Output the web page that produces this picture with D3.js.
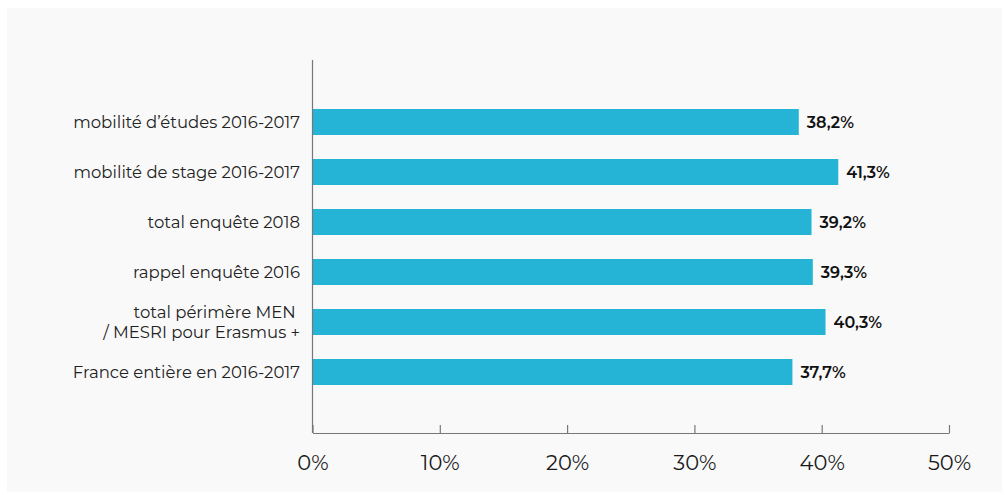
<!DOCTYPE html>
<html>
<head>
<meta charset="utf-8">
<script src="https://cdn.jsdelivr.net/npm/d3@7"></script>
<style>
  html, body { margin: 0; padding: 0; background: #ffffff; }
  svg { display: block; }
</style>
</head>
<body>
<svg id="chart" width="1005" height="495"></svg>
<script>
// Categories (top to bottom), with line breaks for the long label
const categories = [
  "mobilité d’études 2016-2017",
  "mobilité de stage 2016-2017",
  "total enquête 2018",
  "rappel enquête 2016",
  "total périmère MEN \n/ MESRI pour Erasmus +",
  "France entière en 2016-2017"
];
const values = [38.2, 41.3, 39.2, 39.3, 40.3, 37.7];
const tickValues = [0, 10, 20, 30, 40, 50];

const svg = d3.select("#chart");
const font = "Montserrat, 'Open Sans', 'Noto Sans', sans-serif";

// Light panel behind the chart
svg.append("rect")
  .attr("x", 7).attr("y", 8)
  .attr("width", 995).attr("height", 484)
  .attr("fill", "#f9f9f9");

const x = d3.scaleLinear().domain([0, 50]).range([312.5, 949]);
const y = d3.scaleBand().domain(categories).range([97, 397]).paddingInner(0.48).paddingOuter(0.24);

const axisTop = 60, axisBottom = 433;

// Bars
svg.append("g").selectAll("rect")
  .data(categories)
  .join("rect")
  .attr("x", x(0))
  .attr("y", d => y(d))
  .attr("width", (d, i) => x(values[i]) - x(0))
  .attr("height", y.bandwidth())
  .attr("fill", "#25b3d6");

// Value labels
svg.append("g").selectAll("text")
  .data(categories)
  .join("text")
  .attr("x", (d, i) => x(values[i]) + 8)
  .attr("y", d => y(d) + y.bandwidth() / 2)
  .attr("dy", "0.36em")
  .attr("font-family", font)
  .attr("font-size", 16)
  .attr("font-weight", 600)
  .attr("fill", "#111")
  .text((d, i) => d3.format(".1f")(values[i]).replace(".", ",") + "%");

// Category labels (right aligned, multi-line where needed)
const labels = svg.append("g").selectAll("text")
  .data(categories)
  .join("text")
  .attr("text-anchor", "end")
  .attr("font-family", font)
  .attr("font-size", 16.5)
  .attr("font-weight", 400)
  .attr("fill", "#222")
  .attr("xml:space", "preserve")
  .style("white-space", "pre");
labels.each(function(d) {
  const lines = d.split("\n");
  const cy = y(d) + y.bandwidth() / 2;
  const lh = 20;
  lines.forEach((ln, k) => {
    d3.select(this).append("tspan")
      .attr("x", 300)
      .attr("y", cy + (k - (lines.length - 1) / 2) * lh)
      .attr("dy", "0.36em")
      .text(ln);
  });
});

// Vertical baseline
svg.append("line")
  .attr("x1", x(0)).attr("x2", x(0))
  .attr("y1", axisTop).attr("y2", axisBottom)
  .attr("stroke", "#777").attr("stroke-width", 1.2);

// Bottom axis with upward ticks
const xAxis = d3.axisBottom(x)
  .tickValues(tickValues)
  .tickSize(-8)
  .tickSizeOuter(0)
  .tickFormat(d => d + "%");
const gx = svg.append("g")
  .attr("transform", `translate(0,${axisBottom})`)
  .call(xAxis);
gx.select(".domain").attr("stroke", "#777").attr("stroke-width", 1.2);
gx.selectAll(".tick line").attr("stroke", "#777").attr("stroke-width", 1.2);
gx.selectAll(".tick text")
  .attr("y", 22)
  .attr("dy", "0.71em")
  .attr("font-family", font)
  .attr("font-size", 21)
  .attr("fill", "#1a1a1a");
</script>
</body>
</html>
